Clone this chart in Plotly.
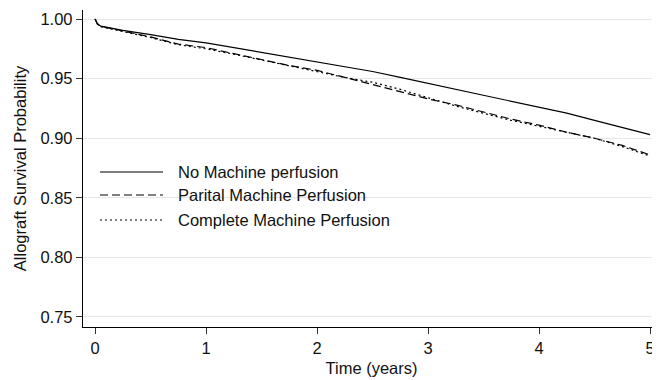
import plotly.graph_objects as go

# Time points (years)
time_years = [0, 0.02, 0.05, 0.25, 0.5, 0.75, 1.0, 1.25, 1.5, 1.75, 2.0, 2.25, 2.5,
              2.75, 3.0, 3.25, 3.5, 3.75, 4.0, 4.25, 4.5, 4.75, 5.0]

# Survival estimates
no_mp = [1.000, 0.996, 0.994, 0.9905, 0.987, 0.983, 0.980, 0.976, 0.972, 0.968, 0.964,
         0.960, 0.956, 0.951, 0.946, 0.941, 0.936, 0.931, 0.926, 0.921, 0.915, 0.909, 0.903]
partial_mp = [1.000, 0.996, 0.994, 0.990, 0.985, 0.979, 0.976, 0.971, 0.966, 0.961, 0.957,
              0.951, 0.945, 0.939, 0.933, 0.928, 0.922, 0.916, 0.911, 0.905, 0.900, 0.894, 0.886]
complete_mp = [1.000, 0.996, 0.9935, 0.9895, 0.9845, 0.9785, 0.975, 0.9705, 0.9655, 0.9605, 0.956,
               0.951, 0.947, 0.941, 0.934, 0.927, 0.921, 0.915, 0.910, 0.905, 0.900, 0.893, 0.885]

series_names = ["No Machine perfusion", "Parital Machine Perfusion", "Complete Machine Perfusion"]
series_values = [no_mp, partial_mp, complete_mp]
series_dash = ["solid", "8px,4px", "2px,3px"]

y_ticks = [0.75, 0.80, 0.85, 0.90, 0.95, 1.00]
y_ticklabels = ["0.75", "0.80", "0.85", "0.90", "0.95", "1.00"]
x_ticks = [0, 1, 2, 3, 4, 5]

FONT = "Arial, 'Liberation Sans', sans-serif"
TXT = "#111"

fig = go.Figure()
for name, vals, dash in zip(series_names, series_values, series_dash):
    fig.add_trace(go.Scatter(x=time_years, y=vals, mode="lines", name=name,
                             line=dict(color="black", width=1.2, dash=dash),
                             showlegend=False))

# The page body has an 8px margin, so the figure is shrunk and offset to land
# the plot area where the reference has it (x 83..660, y 10..327 in window px).
OFF = 8
W, H = 660 - OFF, 380 - OFF
ml, mr, mt, mb = 83 - OFF, 0, 10 - OFF, 53
pw, ph = W - ml - mr, H - mt - mb

def px_x(p):
    return (p - OFF - ml) / pw

def px_y(p):
    return (H - mb - (p - OFF)) / ph

legend_rows = [172, 195, 220]
for name, dash, row in zip(series_names, series_dash, legend_rows):
    fig.add_shape(type="line", xref="paper", yref="paper",
                  x0=px_x(100), x1=px_x(163), y0=px_y(row), y1=px_y(row),
                  line=dict(color="black", width=1.2, dash=dash))
    fig.add_annotation(xref="paper", yref="paper", x=px_x(176), y=px_y(row),
                       text=name, showarrow=False, xanchor="left", yanchor="middle",
                       font=dict(family=FONT, size=16.5, color=TXT))

fig.update_layout(
    width=W, height=H,
    margin=dict(l=ml, r=mr, t=mt, b=mb),
    paper_bgcolor="white", plot_bgcolor="white",
    font=dict(family=FONT, size=16.5, color=TXT),
    xaxis=dict(range=[-0.109, 5.09], tickvals=x_ticks, ticks="outside", ticklen=6,
               tickcolor="#333", showline=True, linecolor="black", linewidth=1.3,
               showgrid=False, zeroline=False,
               title=dict(text="Time (years)", standoff=6, font=dict(size=16.5))),
    yaxis=dict(range=[0.7416, 1.0076], tickvals=y_ticks, ticktext=y_ticklabels,
               ticks="outside", ticklen=6, tickcolor="#333",
               showline=True, linecolor="black", linewidth=1.3,
               showgrid=True, gridcolor="#e6e6e6", gridwidth=1, zeroline=False,
               title=dict(text="Allograft Survival Probability", standoff=9, font=dict(size=16.5))),
)

fig.write_html("out.html")
